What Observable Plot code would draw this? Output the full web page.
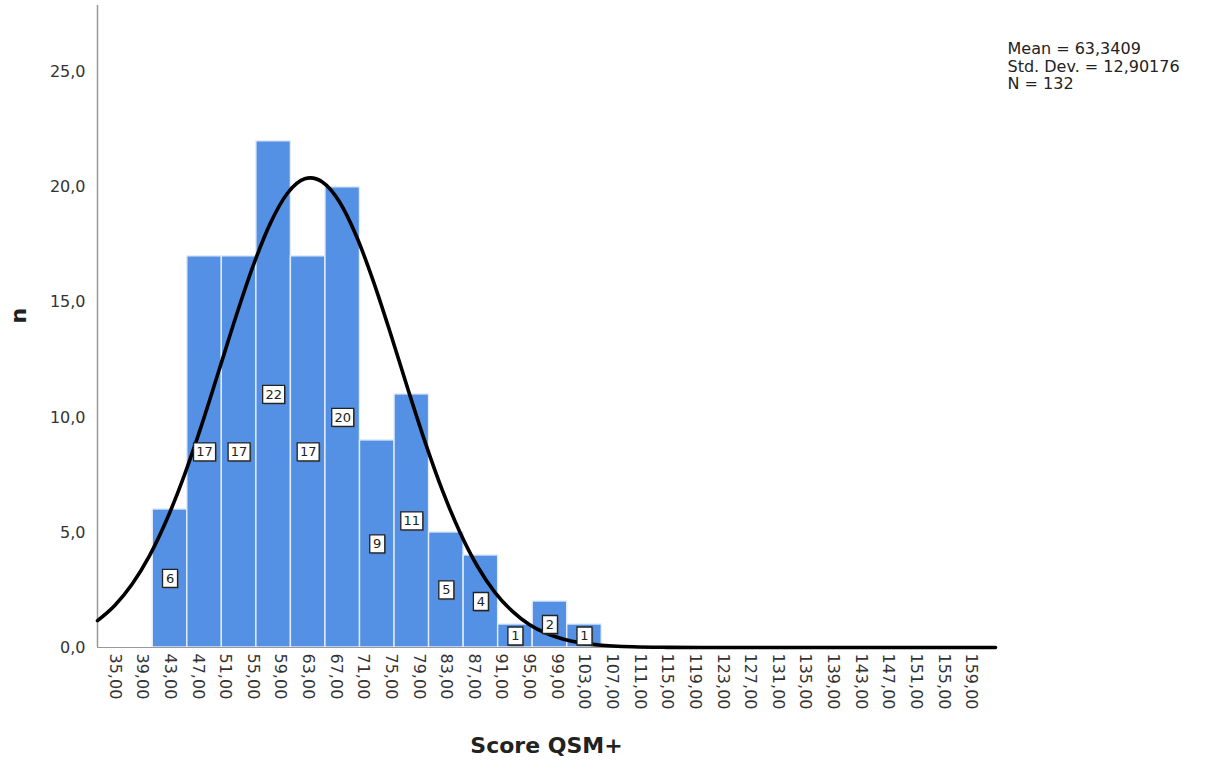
<!DOCTYPE html>
<html><head><meta charset="utf-8">
<script src="https://cdn.jsdelivr.net/npm/d3@7"></script>
<script src="https://cdn.jsdelivr.net/npm/@observablehq/plot@0.6"></script>
<style>body{margin:0;background:#fff}</style>
</head><body><div id="chart"></div>
<script>
// Histogram bins (start of each bin) and counts
const binStarts = [40.5, 45.5, 50.5, 55.5, 60.5, 65.5, 70.5, 75.5, 80.5, 85.5, 90.5, 95.5, 100.5];
const binWidth = 5;
const counts = [6, 17, 17, 22, 17, 20, 9, 11, 5, 4, 1, 2, 1];

// Fitted normal curve
const curveX = [32.5, 35, 37.5, 40, 42.5, 45, 47.5, 50, 52.5, 55, 57.5, 60, 62.5, 63.34, 65, 67.5, 70, 72.5, 75, 77.5, 80, 82.5, 85, 87.5, 90, 92.5, 95, 97.5, 100, 102.5, 105, 110, 115, 120, 130, 140, 150, 162.5];
const curveY = [1.17, 1.83, 2.75, 3.97, 5.54, 7.43, 9.60, 11.96, 14.34, 16.56, 18.42, 19.74, 20.37, 20.41, 20.24, 19.38, 17.86, 15.86, 13.57, 11.17, 8.86, 6.77, 4.99, 3.53, 2.41, 1.59, 1.00, 0.61, 0.36, 0.20, 0.11, 0.03, 0.007, 0, 0, 0, 0, 0];

// Axes
const xDomain = [32.5, 162.5];
const yDomain = [0, 27.9];
const xTicks = [35, 39, 43, 47, 51, 55, 59, 63, 67, 71, 75, 79, 83, 87, 91, 95, 99, 103, 107, 111, 115, 119, 123, 127, 131, 135, 139, 143, 147, 151, 155, 159];
const yTicks = [0, 5, 10, 15, 20, 25];
const xTitle = "Score QSM+";
const yTitle = "n";
const statsLines = ["Mean = 63,3409", "Std. Dev. = 12,90176", "N = 132"];

const bars = binStarts.map((s, i) => ({x1: s, x2: s + binWidth, mid: s + binWidth / 2, c: counts[i]}));
const curve = curveX.map((x, i) => ({x, y: curveY[i]}));
const box = (w, h) => ({draw(ctx) { ctx.rect(-w / 2, -h / 2, w, h); }});
const comma = (v, n) => v.toFixed(n).replace(".", ",");
const txt = "#333";
const wide = bars.filter(d => d.c >= 10);
const narrow = bars.filter(d => d.c < 10);
const half = d => d.c / 2;

const chart = Plot.plot({
  width: 1206,
  height: 773,
  marginLeft: 97,
  marginRight: 211,
  marginTop: 5,
  marginBottom: 126,
  style: {fontFamily: "DejaVu Sans, sans-serif", background: "white"},
  x: {domain: xDomain},
  y: {domain: yDomain},
  marks: [
    Plot.rectY(bars, {x1: "x1", x2: "x2", y: "c", fill: "#5491E4", stroke: "#e3ecfa", strokeWidth: 1.4}),
    Plot.ruleY([0], {stroke: "#999", strokeWidth: 1.2}),
    Plot.ruleX([xDomain[0]], {stroke: "#999", strokeWidth: 1.5}),
    Plot.line(curve, {x: "x", y: "y", stroke: "black", strokeWidth: 3.6, curve: "monotone-x"}),
    Plot.dot(wide, {x: "mid", y: half, dx: 1.2, dy: 1.2, symbol: box(22, 18), r: 5, fill: "#555", fillOpacity: 0.6, stroke: "none"}),
    Plot.dot(narrow, {x: "mid", y: half, dx: 1.2, dy: 1.2, symbol: box(15, 18), r: 5, fill: "#555", fillOpacity: 0.6, stroke: "none"}),
    Plot.dot(wide, {x: "mid", y: half, symbol: box(22, 18), r: 5, fill: "white", stroke: "#222", strokeWidth: 1.3}),
    Plot.dot(narrow, {x: "mid", y: half, symbol: box(15, 18), r: 5, fill: "white", stroke: "#222", strokeWidth: 1.3}),
    Plot.text(bars, {x: "mid", y: half, text: d => String(d.c), fontSize: 13, fill: "#222"}),
    Plot.axisX(xTicks, {tickFormat: d => comma(d, 2), tickRotate: 90, tickSize: 0, tickPadding: 6, fontSize: 16, fill: txt, label: null}),
    Plot.axisY(yTicks, {tickFormat: d => comma(d, 1), tickSize: 0, tickPadding: 12, fontSize: 16, fill: txt, label: null}),
    Plot.text([xTitle], {frameAnchor: "bottom", dy: 105, fontSize: 22, fontWeight: "bold", fill: "#222"}),
    Plot.text([yTitle], {frameAnchor: "left", dx: -79, dy: -3, rotate: -90, fontSize: 22, fontWeight: "bold", fill: "#222"}),
    Plot.text([statsLines.join("\n")], {frameAnchor: "top-right", textAnchor: "start", lineAnchor: "top", dx: 12, dy: 36, fontSize: 16, lineHeight: 1.1, fill: "#222"})
  ]
});
document.getElementById("chart").append(chart);
</script>
</body></html>
